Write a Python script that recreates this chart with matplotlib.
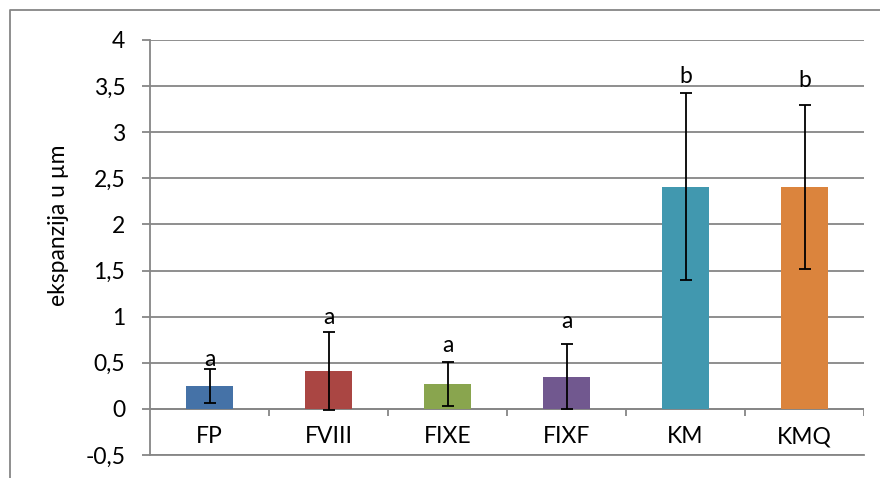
import numpy as np
import matplotlib.pyplot as plt
from matplotlib.lines import Line2D

# podaci
kategorije = ['FP', 'FVIII', 'FIXE', 'FIXF', 'KM', 'KMQ']
vrijednosti = [0.25, 0.41, 0.27, 0.35, 2.41, 2.41]
greske = [0.185, 0.42, 0.24, 0.35, 1.01, 0.89]
slova = ['a', 'a', 'a', 'a', 'b', 'b']
slova_y = [0.54, 0.99, 0.69, 0.95, 3.60, 3.56]
boje = ['#4572A7', '#AA4643', '#89A54E', '#71588F', '#4198AF', '#DB843D']

plt.rcParams['font.family'] = ['Lato', 'DejaVu Sans']
siva = '#868686'
fs = 16.5

fig = plt.figure(figsize=(8.8, 4.78), dpi=100)
ax = fig.add_axes([150/880, 23/478, 714/880, 415/478])

x = np.arange(len(kategorije))
ax.bar(x, vrijednosti, width=0.4, color=boje, zorder=3)
ax.errorbar(x, vrijednosti, yerr=greske, fmt='none', ecolor='black',
            elinewidth=1.3, capsize=4.5, capthick=1.3, zorder=4)

for xi, s, sy in zip(x, slova, slova_y):
    ax.text(xi, sy, s, ha='center', va='center', fontsize=fs, zorder=5)

# os x na nuli
ax.axhline(0, color=siva, lw=1.3, zorder=2)
granice = np.arange(len(kategorije) + 1) - 0.5
ax.vlines(granice[1:], -0.08, 0, color=siva, lw=1.3, zorder=2)
for xi, k in zip(x, kategorije):
    ax.text(xi, -0.30, k, ha='center', va='center', fontsize=fs)

ax.set_xlim(-0.5, 5.5)
ax.set_ylim(-0.5, 4)
ax.set_yticks(np.arange(-0.5, 4.01, 0.5))
ax.set_yticklabels([f'{v:g}'.replace('.', ',') for v in np.arange(-0.5, 4.01, 0.5)],
                   fontsize=fs)
ax.set_xticks([])
ax.yaxis.grid(True, color=siva, lw=1.3)
ax.set_axisbelow(True)
ax.tick_params(axis='y', length=5.8, width=1.3, color=siva, pad=12)
for sp in ['top', 'right']:
    ax.spines[sp].set_visible(False)
for sp in ['left', 'bottom']:
    ax.spines[sp].set_color(siva)
    ax.spines[sp].set_linewidth(1.3)
ax.set_ylabel('ekspanzija u µm', fontsize=fs)
ax.yaxis.set_label_coords(-0.113, 0.554)

# okvir grafikona
fig.add_artist(Line2D([10/880, 10/880, 1], [0, 1 - 10/478, 1 - 10/478],
                      transform=fig.transFigure, color=siva, lw=1.3))

fig.savefig('out.png', dpi=100)
